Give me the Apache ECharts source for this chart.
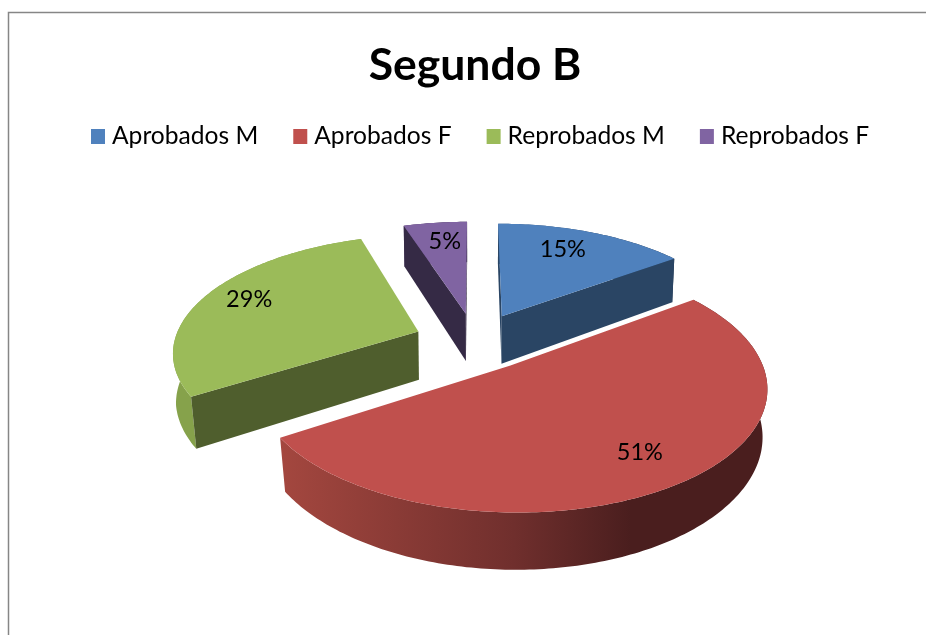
<!DOCTYPE html>
<html><head><meta charset="utf-8">
<style>html,body{margin:0;padding:0;background:#fff}#c{width:926px;height:635px}</style>
<script src="https://cdn.jsdelivr.net/npm/echarts@6/dist/echarts.min.js"></script>
</head><body><div id="c"></div>
<script>
const titleText = 'Segundo B';
const categories = ['Aprobados M', 'Aprobados F', 'Reprobados M', 'Reprobados F'];
const values = [15, 51, 29, 5];
const topColors = ['#4F81BD', '#C0504D', '#9BBB59', '#8064A2'];
const cutColors = ['#2A4564', '#6E2C2A', '#4F5E2D', '#352A45'];
const wallStops = [
  ['#3E618C', '#2A4564', '#1D3046'],
  ['#A4473F', '#702F2D', '#4A1E1E'],
  ['#86A24B', '#86A24B', '#86A24B'],
  ['#5F4A79', '#463757', '#352A45']
];
const labelNudge = [[-10, -1], [5, 1], [-6, -4], [3, -1]];
const drawOrder = [2, 3, 0, 1];

// pie projection
const P = {ox: 475, oy: 341, R: 244, tilt: 0.47, persp: 0.16, explode: 0.25, depth: 49, depthVar: 0.14, labelR: 0.76};
const total = values.reduce((a, b) => a + b, 0);
const starts = [];
values.reduce((acc, v, i) => { starts[i] = acc; return acc + v; }, 0);
const ang = v => v / total * Math.PI * 2;

function proj(u, v) {
  const s = 1 / (1 + P.persp * v);
  return [P.ox + P.R * u * s, P.oy - P.R * P.tilt * v * s];
}
function down(u, v) {
  const p = proj(u, v);
  const h = P.depth * (1 - P.depthVar * v);
  const shrink = Math.min(0.99, 0.993 + 0.025 * v);
  return [P.ox + (p[0] - P.ox) * shrink, p[1] + h];
}
function renderSlice(idx) {
  return function (params, api) {
    const val = api.value(0);
    const a0 = ang(starts[idx]), a1 = a0 + ang(val), mid = (a0 + a1) / 2;
    const cu = P.explode * Math.sin(mid), cv = P.explode * Math.cos(mid);
    const arcUV = [];
    const n = Math.max(8, Math.round((a1 - a0) * 60));
    for (let i = 0; i <= n; i++) {
      const a = a0 + (a1 - a0) * i / n;
      arcUV.push([cu + Math.sin(a), cv + Math.cos(a)]);
    }
    const first = arcUV[0], last = arcUV[arcUV.length - 1];
    const wall = (q1, q2) => [proj(q1[0], q1[1]), proj(q2[0], q2[1]), down(q2[0], q2[1]), down(q1[0], q1[1])];
    const children = [];
    const outer = arcUV.map(q => proj(q[0], q[1])).concat(arcUV.slice().reverse().map(q => down(q[0], q[1])));
    const xs = outer.map(p => p[0]);
    const xMin = Math.min(...xs), xMax = Math.max(...xs);
    const st = wallStops[idx];
    const grad = new echarts.graphic.LinearGradient(xMin, 0, xMax, 0, [
      {offset: 0, color: st[0]},
      {offset: 0.48, color: st[1]},
      {offset: 0.72, color: st[2]},
      {offset: 1, color: st[2]}
    ], true);
    children.push({type: 'polygon', shape: {points: outer}, style: {fill: grad}});
    const cutFill = cutColors[idx];
    // a cut face is only drawn when it turns towards the viewer
    if (Math.cos(a0 - Math.PI / 2) <= 0.01) children.push({type: 'polygon', shape: {points: wall([cu, cv], first)}, style: {fill: cutFill}});
    if (Math.cos(a1 + Math.PI / 2) <= 0.01) children.push({type: 'polygon', shape: {points: wall([cu, cv], last)}, style: {fill: cutFill}});
    const top = [proj(cu, cv)].concat(arcUV.map(q => proj(q[0], q[1])));
    children.push({type: 'polygon', shape: {points: top}, style: {fill: topColors[idx]}});
    const lp = proj(cu + P.labelR * Math.sin(mid), cv + P.labelR * Math.cos(mid));
    children.push({type: 'text', z2: 10, style: {text: val + '%', x: lp[0] + labelNudge[idx][0], y: lp[1] + labelNudge[idx][1], align: 'center', verticalAlign: 'middle',
      fontFamily: 'Lato', fontSize: 23.5, fill: '#000'}});
    return {type: 'group', children};
  };
}
const chart = echarts.init(document.getElementById('c'), null, {renderer: 'canvas'});
chart.setOption({
  animation: false,
  backgroundColor: '#fff',
  title: {text: titleText, left: 470, top: 38, textAlign: 'center', textStyle: {fontFamily: 'Lato', fontWeight: 'bold', fontSize: 44.5, color: '#000'}},
  legend: {
    data: categories, left: 86, top: 119, icon: 'rect', itemWidth: 14, itemHeight: 15, itemGap: 35,
    textStyle: {fontFamily: 'Lato', fontSize: 24.6, color: '#000', padding: [0, 0, 0, 2]}
  },
  graphic: [{type: 'rect', z: -1, silent: true, shape: {x: 8.5, y: 12.5, width: 1000, height: 1000}, style: {fill: 'none', stroke: '#868686', lineWidth: 1.5}}],
  series: drawOrder.map(i => ({
    type: 'custom', name: categories[i], coordinateSystem: 'none', silent: true,
    clip: false, itemStyle: {color: topColors[i]}, data: [[values[i]]], renderItem: renderSlice(i)
  }))
});
</script></body></html>
